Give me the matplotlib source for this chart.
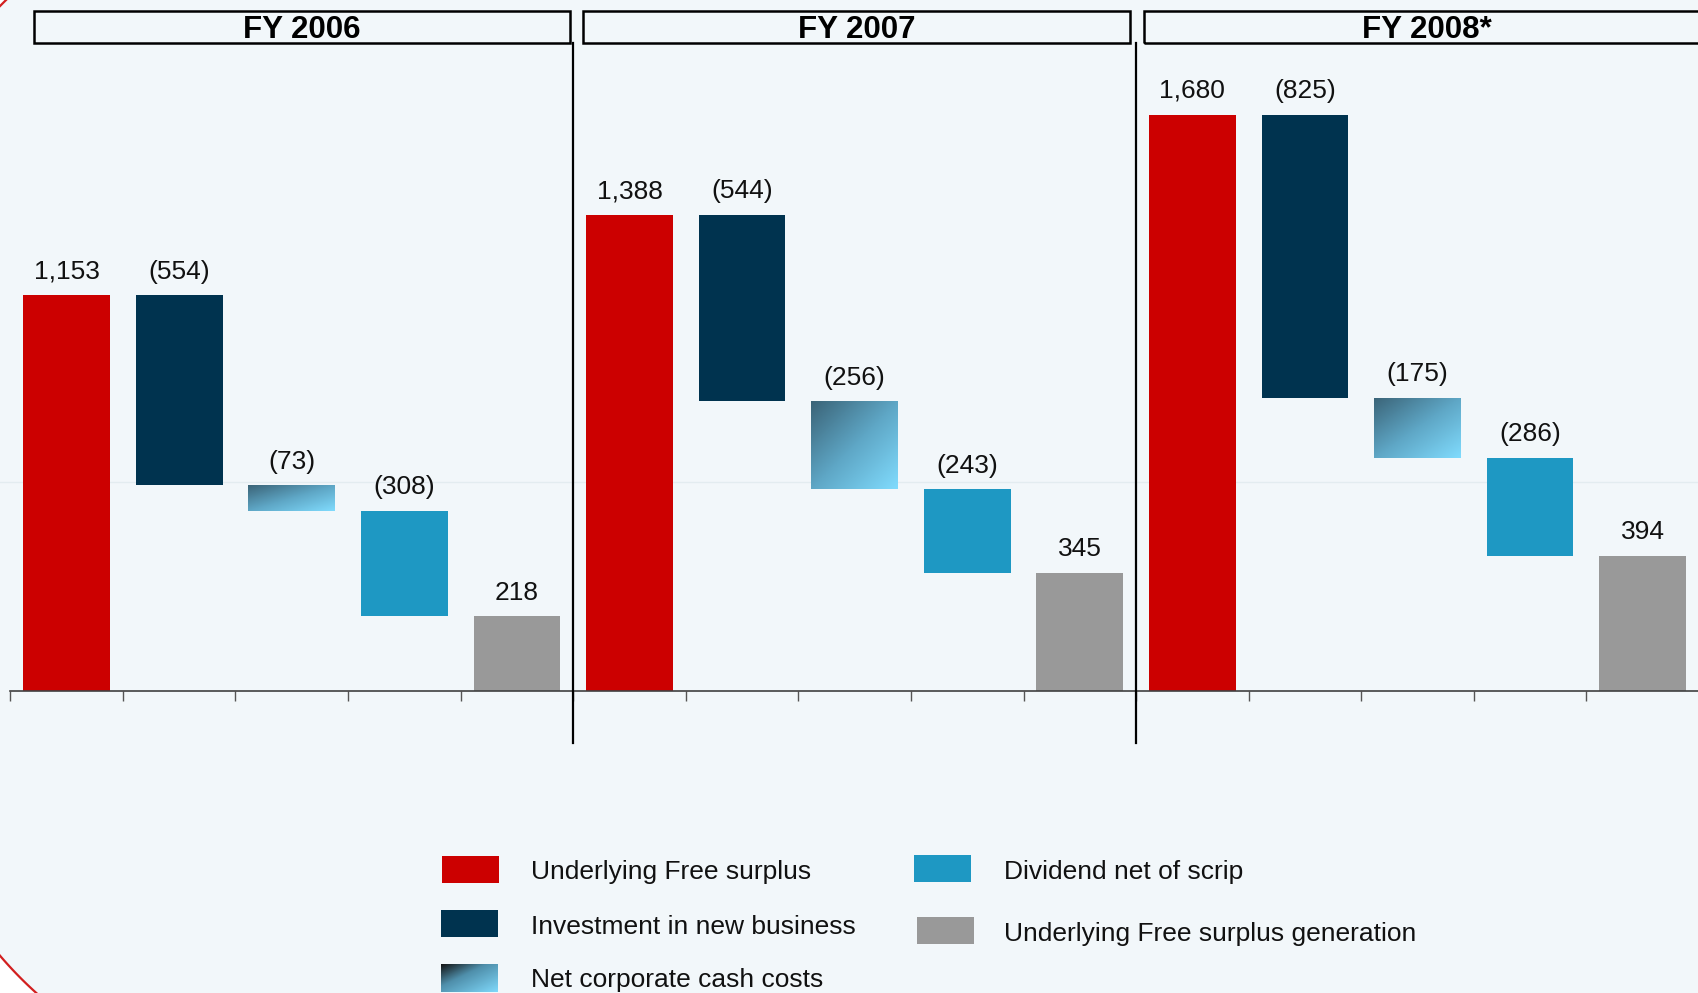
import numpy as np
import matplotlib.pyplot as plt
from matplotlib.colors import LinearSegmentedColormap
from matplotlib.patches import Rectangle, Polygon

plt.rcParams['font.family'] = ['Liberation Sans', 'DejaVu Sans']

# Free surplus walk per year
years = ['FY 2006', 'FY 2007', 'FY 2008*']
free_surplus = [1153, 1388, 1680]
investment = [-554, -544, -825]
cash_costs = [-73, -256, -175]
dividend = [-308, -243, -286]
generation = [218, 345, 394]
series_names = ['Underlying Free surplus', 'Investment in new business',
                'Net corporate cash costs', 'Dividend net of scrip',
                'Underlying Free surplus generation']

RED = '#cc0000'
NAVY = '#00334f'
TEAL = '#1e98c3'
GREY = '#999999'
BG = '#f2f7fa'
bar_grad = LinearSegmentedColormap.from_list('cash', ['#3b6478', '#5ea6c5', '#80dbfd'])
key_grad = LinearSegmentedColormap.from_list('cash_key', [(0, '#141414'), (0.4, '#4f8fab'), (1, '#7fd8fa')])


def diag_gradient(n=64):
    u = np.linspace(0, 1, n)
    return (u[None, :] + u[:, None]) / 2


def fmt(v):
    return f'{v:,}' if v >= 0 else f'({-v:,})'


W, H = 1699, 993
fig = plt.figure(figsize=(W / 100, H / 100), dpi=100, facecolor=BG)

# overlay in pixel units for legend and frame decoration
lax = fig.add_axes([0, 0, 1, 1], zorder=0)
lax.set_xlim(0, W)
lax.set_ylim(H, 0)
lax.axis('off')

base_px = 691
px_per_unit = 0.3431
slot = 112.7
ax = fig.add_axes([0, (H - base_px) / H, 1, base_px / H], zorder=1)
ax.set_facecolor('none')
ax.set_xlim(-0.5 - 10.3 / slot, -0.5 + (W - 10.3) / slot)
ax.set_ylim(0, base_px / px_per_unit)

ax.axhline(610, color='#e3ecf0', lw=1, zorder=0)

bw = 0.77
for i in range(len(years)):
    steps = [free_surplus[i], investment[i], cash_costs[i], dividend[i], generation[i]]
    colors = [RED, NAVY, None, TEAL, GREY]
    running = 0
    for j, v in enumerate(steps):
        x = i * 5 + j
        if j == 0 or j == 4:
            bottom, height = 0, v
            top = v
            running = v
        else:
            bottom, height = running + v, -v
            top = running
            running = running + v
        if colors[j] is None:
            bar = ax.bar(x, height, bw, bottom=bottom, color='none', lw=0)[0]
            im = ax.imshow(diag_gradient(), cmap=bar_grad, aspect='auto', origin='upper',
                           extent=(x - bw / 2, x + bw / 2, bottom, bottom + height), zorder=2)
            im.set_clip_path(bar)
        else:
            ax.bar(x, height, bw, bottom=bottom, color=colors[j], lw=0, zorder=2)
        ax.annotate(fmt(v), (x, top), xytext=(0, 17), textcoords='offset points',
                    ha='center', va='center', fontsize=19, color='#111111')

# axis: baseline with ticks between categories
for s in ['left', 'right', 'top']:
    ax.spines[s].set_visible(False)
ax.spines['bottom'].set_bounds(-0.5, 14.5)
ax.spines['bottom'].set_color('#404040')
ax.spines['bottom'].set_linewidth(1.2)
ax.set_xticks(np.arange(-0.5, 15, 1))
ax.set_xticklabels([])
ax.set_yticks([])
ax.tick_params(axis='x', direction='out', length=7, width=1, color='#555555')

# year separators and header boxes
for b in [4.5, 9.5]:
    ax.plot([b, b], [-152, 1889], color='black', lw=1.6, clip_on=False, zorder=3)

box_left = [-0.29, 4.59, 9.57]
box_right = [4.47, 9.45, 14.59]
for lbl, l, r in zip(years, box_left, box_right):
    ax.add_patch(Rectangle((l, 1889), r - l, 93, fill=False, ec='black', lw=1.8,
                           clip_on=False, zorder=3))
    ax.text((l + r) / 2, 1926, lbl, ha='center', va='center', fontsize=22.5,
            fontweight='bold', color='black', clip_on=False)

# legend
key_colors = [RED, NAVY, None, TEAL, GREY]
key_boxes = [(442, 856), (441, 910), (441, 964), (914, 855), (917, 917)]
key_text_x = [531, 531, 531, 1004, 1004]
sw, sh = 57, 27
for name, c, (kx, ky), tx in zip(series_names, key_colors, key_boxes, key_text_x):
    if c is None:
        lax.imshow(diag_gradient(), cmap=key_grad, aspect='auto', origin='upper',
                   extent=(kx, kx + sw, ky + sh + 1, ky))
    else:
        lax.add_patch(Rectangle((kx, ky), sw, sh, color=c, lw=0))
    lax.text(tx, ky + sh / 2 + 3, name, ha='left', va='center', fontsize=19, color='#111111')
lax.set_xlim(0, W)
lax.set_ylim(H, 0)

# rounded slide corners
for (cx, cy, r, t0, t1, corner) in [(302, 698, 397, 125, 145, (-60, 1060)),
                                    (300, 300, 420, 212, 238, (-60, -60))]:
    t = np.radians(np.linspace(t0, t1, 120))
    xs = cx + r * np.cos(t)
    ys = cy + r * np.sin(t)
    pts = np.column_stack([np.append(xs, corner[0]), np.append(ys, corner[1])])
    lax.add_patch(Polygon(pts, closed=True, fc='white', ec='none'))
    lax.plot(xs, ys, color='#d21f1f', lw=1.6)

fig.savefig('out.png', dpi=100, facecolor=BG)
